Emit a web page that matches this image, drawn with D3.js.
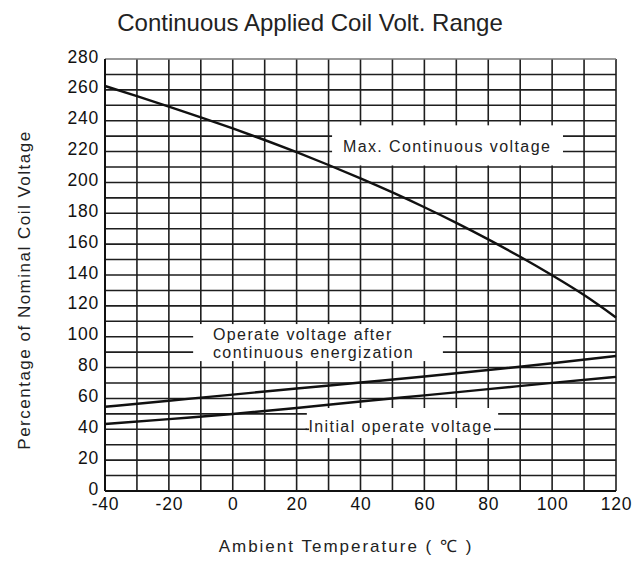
<!DOCTYPE html>
<html>
<head>
<meta charset="utf-8">
<script src="https://cdn.jsdelivr.net/npm/d3@7"></script>
<style>
  body { margin: 0; background: #fff; }
  svg { font-family: "Liberation Sans", Arial, sans-serif; }
</style>
</head>
<body>
<svg id="chart" width="632" height="578"></svg>
<script>
// values
const temps = [-40, -30, -20, -10, 0, 10, 20, 30, 40, 50, 60, 70, 80, 90, 100, 110, 120];
const maxContinuous = [262.5, 256, 249.2, 242.2, 235, 227.5, 219.6, 211.3, 202.6, 193.5, 183.9, 173.8, 163.1, 151.8, 139.8, 127, 112.5];

const tempsCoarse = [-40, -20, 0, 20, 40, 60, 80, 100, 120];
const operateAfter = [54.6, 58.5, 62.5, 66.4, 70.3, 74.2, 78.4, 82.8, 87.5];
const initialOperate = [43.4, 46.6, 49.9, 53.8, 58, 62, 66, 70.1, 74];

const xTicks = [-40, -20, 0, 20, 40, 60, 80, 100, 120];
const yTicks = [0, 20, 40, 60, 80, 100, 120, 140, 160, 180, 200, 220, 240, 260, 280];

const svg = d3.select('#chart');

const x = d3.scaleLinear().domain([-40, 120]).range([105, 616]);
const y = d3.scaleLinear().domain([0, 280]).range([491, 59]);

// grid, every 10 units both ways
const grid = svg.append('g').attr('id', 'grid');
grid.selectAll('line.v')
    .data(d3.range(-40, 121, 10))
    .enter().append('line')
    .attr('class', 'v')
    .attr('x1', d => x(d)).attr('x2', d => x(d))
    .attr('y1', y(280)).attr('y2', y(0))
    .attr('stroke', '#1e1e1e')
    .attr('stroke-width', 1.6);
grid.selectAll('line.h')
    .data(d3.range(0, 281, 10))
    .enter().append('line')
    .attr('class', 'h')
    .attr('x1', x(-40)).attr('x2', x(120))
    .attr('y1', d => y(d)).attr('y2', d => y(d))
    .attr('stroke', d => (d === 280 ? '#777' : '#1e1e1e'))
    .attr('stroke-width', 1.6);

// white boxes behind the curve labels (data coords)
const boxes = [
    {x0: 31.1, x1: 103.4, y0: 211, y1: 237},
    {x0: -12.4, x1: 65.8, y0: 84.2, y1: 108.2},
    {x0: 23.2, x1: 83.1, y0: 34.3, y1: 53.8}
];
svg.selectAll('rect.box')
    .data(boxes)
    .enter().append('rect')
    .attr('class', 'box')
    .attr('x', d => x(d.x0))
    .attr('y', d => y(d.y1))
    .attr('width', d => x(d.x1) - x(d.x0))
    .attr('height', d => y(d.y0) - y(d.y1))
    .attr('fill', '#fff');

// the 40 line shows up to the label text
svg.append('line')
    .attr('x1', x(22.8)).attr('x2', x(23.9))
    .attr('y1', y(40)).attr('y2', y(40))
    .attr('stroke', '#1e1e1e').attr('stroke-width', 1.6);
svg.append('line')
    .attr('x1', x(81.8)).attr('x2', x(83.2))
    .attr('y1', y(40)).attr('y2', y(40))
    .attr('stroke', '#1e1e1e').attr('stroke-width', 1.6);

// axis frame
svg.append('line')
    .attr('x1', x(-40)).attr('x2', x(-40))
    .attr('y1', y(280)).attr('y2', y(0))
    .attr('stroke', '#111').attr('stroke-width', 2);
svg.append('line')
    .attr('x1', x(-40)).attr('x2', x(120))
    .attr('y1', y(0)).attr('y2', y(0))
    .attr('stroke', '#111').attr('stroke-width', 2);

// curves
const line = d3.line()
    .x(d => x(d[0]))
    .y(d => y(d[1]))
    .curve(d3.curveMonotoneX);

const series = [
    d3.zip(temps, maxContinuous),
    d3.zip(tempsCoarse, operateAfter),
    d3.zip(tempsCoarse, initialOperate)
];
svg.selectAll('path.curve')
    .data(series)
    .enter().append('path')
    .attr('class', 'curve')
    .attr('d', line)
    .attr('fill', 'none')
    .attr('stroke', '#111')
    .attr('stroke-width', 2.4);

// label texts
function addLabel(lines, tx, ty, lh) {
    const t = svg.append('text')
        .attr('x', x(tx)).attr('y', y(ty))
        .style('font-size', '16px')
        .style('letter-spacing', '1.4px')
        .attr('fill', '#222');
    lines.forEach((s, i) => {
        t.append('tspan').attr('x', x(tx)).attr('dy', i ? lh : 0).text(s);
    });
}
addLabel(['Max. Continuous voltage'], 34.5, 219.5, 0);
addLabel(['Operate voltage after', 'continuous energization'], -6.2, 98, 18);
addLabel(['Initial operate voltage'], 23.7, 38, 0);

// tick labels (sit a little above their grid line, as in the original)
const yAxis = svg.append('g')
    .attr('transform', 'translate(' + (x(-40) - 6) + ',-2.5)')
    .call(d3.axisLeft(y).tickValues(yTicks).tickFormat(d => String(d)).tickSize(0).tickPadding(0));
yAxis.select('.domain').remove();
yAxis.selectAll('text')
    .style('font-size', '17.5px')
    .style('letter-spacing', '0.8px')
    .style('font-family', '"Liberation Sans", Arial, sans-serif')
    .attr('fill', '#111');

const xAxis = svg.append('g')
    .attr('transform', 'translate(0,' + (y(0) + 7) + ')')
    .call(d3.axisBottom(x).tickValues(xTicks).tickFormat(d => String(d)).tickSize(0).tickPadding(0));
xAxis.select('.domain').remove();
xAxis.selectAll('text')
    .style('font-size', '17.5px')
    .style('letter-spacing', '0.8px')
    .style('font-family', '"Liberation Sans", Arial, sans-serif')
    .attr('fill', '#111');

// titles
svg.append('text')
    .attr('x', 310).attr('y', 31)
    .attr('text-anchor', 'middle')
    .style('font-size', '24px')
    .attr('fill', '#222')
    .text('Continuous Applied Coil Volt. Range');

svg.append('text')
    .attr('x', 346).attr('y', 552)
    .attr('text-anchor', 'middle')
    .style('font-size', '17px')
    .style('letter-spacing', '2px')
    .attr('fill', '#222')
    .text('Ambient Temperature ( ℃ )');

svg.append('text')
    .attr('transform', 'translate(30,290) rotate(-90)')
    .attr('text-anchor', 'middle')
    .style('font-size', '17px')
    .style('letter-spacing', '1.5px')
    .attr('fill', '#222')
    .text('Percentage of Nominal Coil Voltage');
</script>
</body>
</html>
